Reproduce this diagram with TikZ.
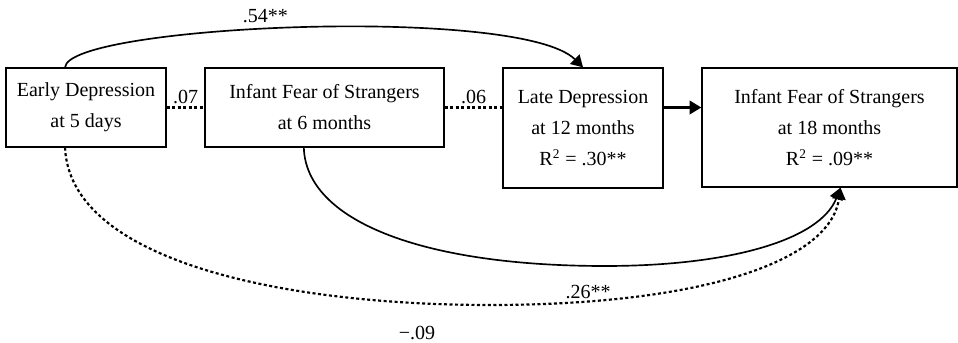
\documentclass[tikz,border=0pt]{standalone}
\usepackage{fontspec}
\setmainfont{Liberation Serif}
\usetikzlibrary{arrows.meta, calc}
\tikzset{
    caixa/.style={draw=black, line width=0.8pt, align=center, inner sep=2pt, font=\fontsize{12}{18.6}\selectfont},
    caminho/.style={line width=1pt},
    pontilhado/.style={line width=1.3pt, dash pattern=on 1.8pt off 1.5pt},
    coef/.style={font=\fontsize{12}{14}\selectfont, inner sep=1.5pt},
    seta/.style={-{Triangle[width=8pt,length=7pt]}}
}

\begin{document}
\begin{tikzpicture}[x=0.6pt, y=-0.6pt]
    \useasboundingbox (0,0) rectangle (958,343);

    % Caixas
    \node[caixa, minimum width=96pt, minimum height=47.4pt] (early) at (86,107.5) {Early Depression\\at 5 days};
    \node[caixa, minimum width=143.4pt, minimum height=47.4pt] (fear6) at (324.5,107.5) {Infant Fear of Strangers\\at 6 months};
    \node[caixa, minimum width=96pt, minimum height=72pt] (late) at (583,128) {Late Depression\\at 12 months\\R\textsuperscript{2} = .30**};
    \node[caixa, minimum width=153pt, minimum height=71.4pt] (fear18) at (829.5,127.5) {Infant Fear of Strangers\\at 18 months\\R\textsuperscript{2} = .09**};

    % Pontos de saida e chegada
    \coordinate (topo) at ($(early.north west)!0.37!(early.north east)$);
    \coordinate (fundo) at ($(early.south west)!0.37!(early.south east)$);
    \coordinate (saida6) at ($(fear6.south west)!0.414!(fear6.south east)$);
    \coordinate (alvo) at ($(fear18.south west)!0.543!(fear18.south east)$);

    % Caminhos retos
    \draw[pontilhado] (early.east) -- node[coef, above] {.07} (fear6.west);
    \draw[pontilhado] (fear6.east) -- node[coef, above] {.06} (late.west |- fear6.east);
    \draw[caminho, line width=1.6pt, seta] (late.east |- early.east) -- (fear18.west |- early.east);

    % Caminhos curvos
    \draw[caminho, seta] (topo) .. controls (68,25) and (520,5) .. node[coef, above, pos=0.45, yshift=2pt] {.54**} (late.north);
    \draw[caminho, seta] (saida6) .. controls (306,220) and (420,266) .. (605,266)
        .. controls (730,266) and (820,240) .. (alvo);
    \draw[pontilhado, seta] (fundo) .. controls (70,260) and (280,305) .. (490,305)
        .. controls (700,305) and (830,262) .. (alvo);

    % Coeficientes soltos
    \node[coef] (c26) at (588,292) {.26**};
    \node[coef] (c09) at (417,333) {−.09};
\end{tikzpicture}
\end{document}
